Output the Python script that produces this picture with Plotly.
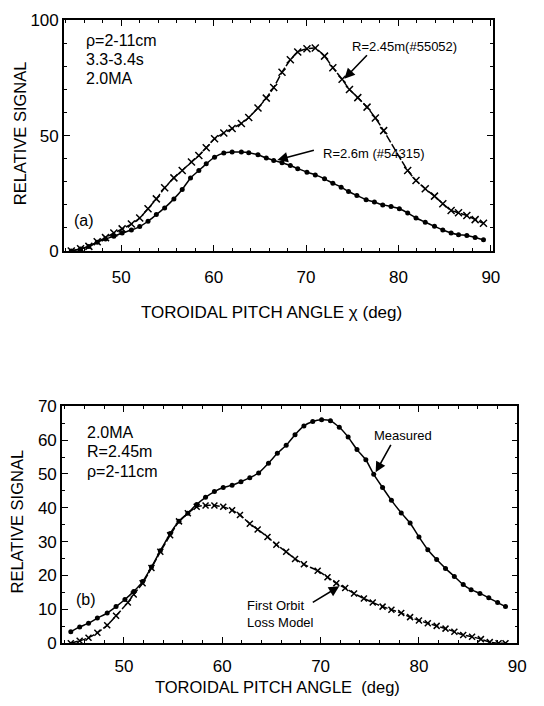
import plotly.graph_objects as go

# ---- Panel (a): pitch-angle distributions for two major radii ----
chi_a_r245 = [44.6, 45.6, 46.5, 47.4, 48.3, 49.2, 50.1, 51.1, 52.0, 52.9, 53.8, 54.7, 55.7, 56.6,
              57.6, 58.4, 59.2, 60.1, 61.1, 62.0, 63.0, 63.8, 64.8, 65.7, 66.5, 67.4, 68.3, 69.1,
              70.1, 71.0, 72.0, 72.9, 73.9, 74.7, 75.6, 76.6, 77.5, 78.4, 81.0, 81.9, 82.9, 83.9,
              84.8, 85.7, 86.5, 87.4, 88.3, 89.2]
sig_a_r245 = [0.0, 1.0, 2.0, 4.0, 5.8, 7.8, 9.6, 11.7, 14.3, 18.3, 22.6, 27.4, 31.7, 34.9,
              38.6, 41.4, 44.8, 48.7, 51.2, 53.1, 55.3, 57.9, 62.0, 66.3, 70.9, 77.5, 82.9, 86.3,
              87.7, 88.0, 84.5, 79.5, 74.5, 70.0, 66.5, 62.4, 57.7, 52.2, 34.9, 30.6, 27.0, 23.8,
              20.5, 17.6, 16.6, 15.4, 13.6, 12.0]

chi_a_r26 = [44.6, 45.6, 46.5, 47.4, 48.3, 49.2, 50.1, 51.1, 52.0, 52.9, 53.8, 54.7, 55.7, 56.6,
             57.5, 58.4, 59.2, 60.1, 61.1, 62.0, 63.0, 63.8, 64.8, 65.7, 66.5, 67.4, 68.3, 69.1,
             70.1, 71.0, 72.0, 72.9, 73.8, 74.6, 75.5, 76.5, 77.4, 78.3, 79.2, 80.1, 81.0, 81.9,
             82.9, 83.9, 84.8, 85.7, 86.5, 87.4, 88.3, 89.2]
sig_a_r26 = [0.0, 0.9, 2.0, 3.8, 5.2, 6.4, 7.8, 9.1, 10.6, 12.9, 15.8, 18.7, 22.6, 26.7,
             31.7, 34.9, 37.8, 40.7, 42.5, 42.9, 42.9, 42.6, 41.7, 40.3, 39.3, 38.3, 37.1, 35.7,
             34.2, 33.0, 31.3, 29.4, 27.7, 25.8, 24.1, 22.2, 21.2, 20.0, 19.3, 18.3, 16.5, 14.3,
             12.5, 10.7, 9.1, 7.8, 7.1, 6.7, 5.9, 4.9]

# ---- Panel (b): measured signal vs. first-orbit loss model ----
chi_b_meas = [44.6, 45.5, 46.4, 47.3, 48.3, 49.2, 50.1, 51.0, 51.9, 52.8, 53.7, 54.7, 55.6, 56.5,
              57.4, 58.3, 59.2, 60.1, 61.0, 61.9, 62.8, 63.7, 64.7, 65.6, 66.5, 67.4, 68.3, 69.2,
              70.1, 71.0, 71.9, 72.8, 73.7, 74.6, 75.4, 76.3, 77.2, 78.2, 79.1, 80.0, 80.9, 81.8,
              82.7, 83.6, 84.5, 85.3, 86.2, 87.1, 88.0, 88.8]
sig_b_meas = [3.4, 4.8, 5.9, 7.4, 8.9, 10.8, 12.9, 15.3, 18.2, 22.5, 27.3, 32.4, 36.0, 38.4,
              41.0, 43.1, 44.8, 46.0, 46.7, 47.7, 48.9, 50.3, 53.2, 56.1, 58.5, 61.6, 64.2, 65.5,
              66.0, 65.7, 63.8, 60.9, 57.2, 54.2, 49.9, 46.0, 42.2, 38.5, 35.5, 31.4, 27.6, 24.7,
              22.1, 19.7, 17.3, 15.8, 14.7, 13.4, 12.0, 10.8]

chi_b_model = [44.6, 45.5, 46.4, 47.3, 48.3, 49.2, 50.4, 51.0, 51.9, 52.8, 53.7, 54.7, 55.6, 56.5,
               57.4, 58.3, 59.2, 60.1, 61.0, 61.8, 62.8, 63.6, 64.6, 65.5, 66.5, 67.4, 68.3, 69.7,
               70.7, 71.6, 72.5, 73.4, 74.4, 75.3, 76.3, 77.2, 78.2, 79.1, 80.0, 80.9, 81.8, 82.7,
               83.6, 84.5, 85.4, 86.3, 87.2, 88.1, 88.8]
sig_b_model = [0.0, 0.7, 1.6, 3.1, 5.3, 8.1, 12.0, 14.4, 17.7, 22.2, 27.0, 31.9, 36.0, 38.4,
               40.3, 40.7, 40.7, 40.3, 39.3, 37.9, 35.3, 33.6, 31.4, 29.1, 27.0, 24.9, 23.3, 21.4,
               19.5, 17.7, 16.3, 14.7, 13.2, 12.0, 10.8, 9.9, 8.9, 7.7, 6.7, 5.9, 5.1, 4.3,
               3.4, 2.4, 1.9, 1.2, 0.3, 0.0, 0.0]

W, H = 544, 706
FONT = "Liberation Sans, Arial, Helvetica, sans-serif"
INK = "black"


def px(x):
    return x / W


def py(y):
    return 1 - y / H


fig = go.Figure()

line_kw = dict(color=INK, width=1.5, shape="spline", smoothing=0.5)

fig.add_trace(go.Scatter(x=chi_a_r245, y=sig_a_r245, mode="lines+markers", xaxis="x", yaxis="y",
                         line=dict(**line_kw, dash="8px,2px"),
                         marker=dict(symbol="x-thin", size=7, line=dict(width=1.5, color=INK)),
                         showlegend=False))
fig.add_trace(go.Scatter(x=chi_a_r26, y=sig_a_r26, mode="lines+markers", xaxis="x", yaxis="y",
                         line=line_kw,
                         marker=dict(symbol="circle", size=5, color=INK),
                         showlegend=False))
fig.add_trace(go.Scatter(x=chi_b_meas, y=sig_b_meas, mode="lines+markers", xaxis="x2", yaxis="y2",
                         line=line_kw,
                         marker=dict(symbol="circle", size=5, color=INK),
                         showlegend=False))
fig.add_trace(go.Scatter(x=chi_b_model, y=sig_b_model, mode="lines+markers", xaxis="x2", yaxis="y2",
                         line=dict(**line_kw, dash="7px,2px"),
                         marker=dict(symbol="x-thin", size=6, line=dict(width=1.5, color=INK)),
                         showlegend=False))

axis_common = dict(showline=True, linecolor=INK, linewidth=1.5, mirror="ticks",
                   ticks="inside", tickcolor=INK, tickwidth=1.2, ticklen=6,
                   showgrid=False, zeroline=False,
                   tickfont=dict(family=FONT, size=17, color=INK))

fig.update_layout(
    width=W, height=H,
    margin=dict(l=0, r=0, t=0, b=0),
    paper_bgcolor="white", plot_bgcolor="white",
    font=dict(family=FONT, color=INK),
    xaxis=dict(**axis_common, domain=[px(65), px(501)], range=[43.8, 90.2], anchor="y",
               tickmode="linear", tick0=50, dtick=10, ticklabelstandoff=10,
               minor=dict(ticks="inside", ticklen=3, tickcolor=INK, dtick=2, tick0=44)),
    yaxis=dict(**axis_common, domain=[py(248.7), py(11.7)], range=[0, 100], anchor="x",
               tickmode="linear", tick0=0, dtick=50,
               minor=dict(ticks="inside", ticklen=3, tickcolor=INK, dtick=10, tick0=0)),
    xaxis2=dict(**axis_common, domain=[px(63), px(526)], range=[43.7, 90.0], anchor="y2",
                tickmode="linear", tick0=50, dtick=10, ticklabelstandoff=7,
                minor=dict(ticks="inside", ticklen=3, tickcolor=INK, dtick=2, tick0=44)),
    yaxis2=dict(**axis_common, domain=[py(651.7), py(408.3)], range=[0, 70], anchor="x2",
                tickmode="linear", tick0=0, dtick=10,
                minor=dict(ticks="inside", ticklen=3, tickcolor=INK, dtick=5, tick0=0)),
)

ann = []


def text(x, y, s, size=17, xanchor="left", angle=0):
    ann.append(dict(x=px(x), y=py(y), xref="paper", yref="paper", text=s, showarrow=False,
                    xanchor=xanchor, yanchor="middle", textangle=angle, align="left",
                    font=dict(family=FONT, size=size, color=INK)))


def arrow(xd, yd, ax, ay, xr, yr):
    ann.append(dict(x=xd, y=yd, xref=xr, yref=yr, ax=ax, ay=ay, text="", showarrow=True,
                    arrowhead=2, arrowsize=1.3, arrowwidth=1.6, arrowcolor=INK))


# Panel (a) labels
text(85, 32, "ρ=2-11cm", 16)
text(85, 52, "3.3-3.4s", 16)
text(85, 71, "2.0MA", 16)
text(73, 217, "(a)", 16)
text(411.5, 39, "R=2.45m(#55052)", 13, "center")
text(380, 148, "R=2.6m (#54315)", 13, "center")
arrow(74.15, 74.7, 24, -25, "x", "y")
arrow(66.9, 39.5, 38, -10, "x", "y")
text(276, 312, "TOROIDAL PITCH ANGLE χ (deg)", 17, "center")
text(20, 128, "RELATIVE SIGNAL", 16.5, "center", -90)

# Panel (b) labels
text(86, 435, "2.0MA", 16)
text(86, 455, "R=2.45m", 16)
text(86, 475, "ρ=2-11cm", 16)
text(75, 607, "(b)", 16)
text(410, 438, "Measured", 13, "center")
arrow(75.6, 50.5, 16, -29, "x2", "y2")
text(249, 622, "First Orbit<br>Loss Model", 13)
arrow(71.9, 16.8, -28, 17, "x2", "y2")
text(282, 697, "TOROIDAL PITCH ANGLE  (deg)", 16.5, "center")
text(17, 527, "RELATIVE SIGNAL", 16.5, "center", -90)

fig.update_layout(annotations=ann)

fig.write_html("out.html")
